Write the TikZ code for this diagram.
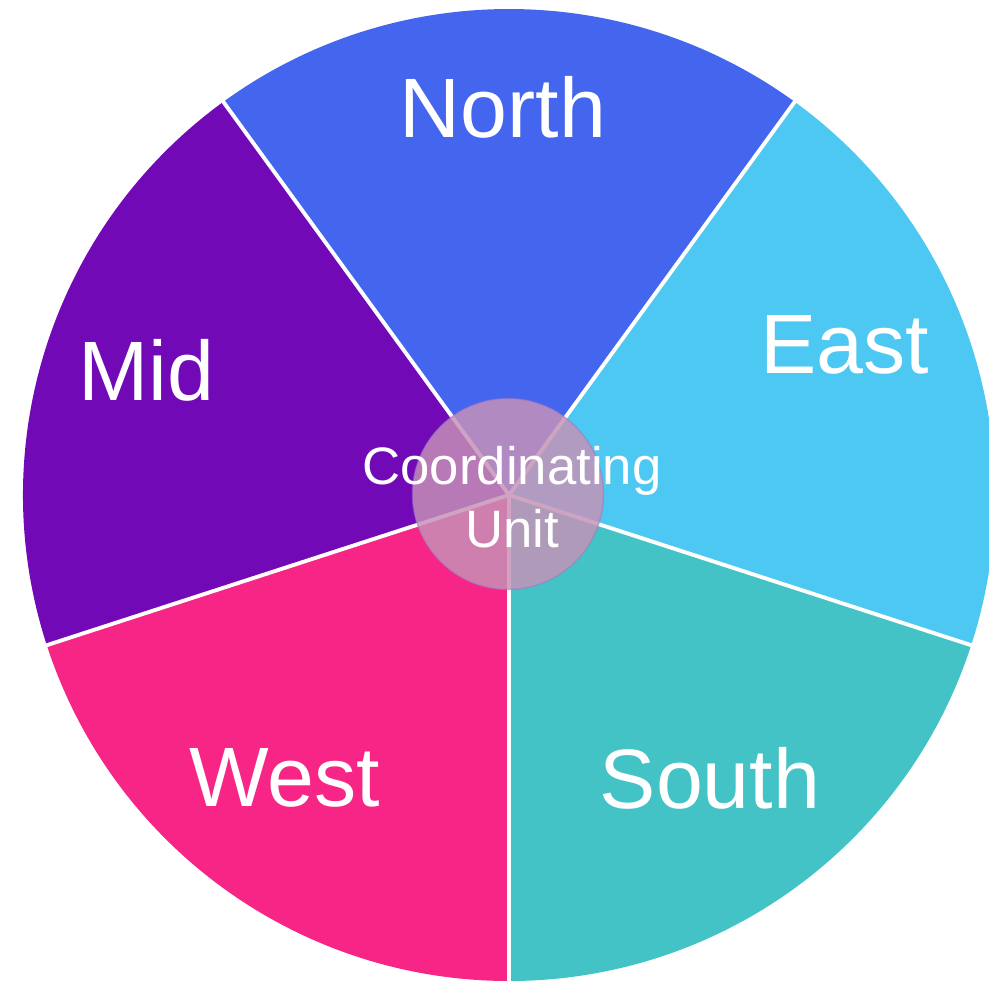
\documentclass[tikz,border=0pt]{standalone}
\usepackage{fontspec}
\setmainfont{Liberation Sans}
\usetikzlibrary{calc}
\definecolor{northblue}{HTML}{4466EE}
\definecolor{eastcyan}{HTML}{4DC8F2}
\definecolor{southteal}{HTML}{44C3C6}
\definecolor{westpink}{HTML}{F72585}
\definecolor{midviolet}{HTML}{7109B7}
\definecolor{hubmauve}{HTML}{C692B7}

\begin{document}
\begin{tikzpicture}[
    region/.style={text=white, font=\fontsize{24}{29}\selectfont},
    divider/.style={white, line width=1.1pt},
  ]
    \useasboundingbox (0,-9.80) rectangle (9.89,0);
    \clip (0,-9.80) rectangle (9.89,0);
    \coordinate (C) at (5.09,-4.95);
    % the five sectors
    \fill[northblue] (C) -- ++(54:4.86) arc (54:126:4.86) -- cycle;
    \fill[midviolet] (C) -- ++(126:4.86) arc (126:198:4.86) -- cycle;
    \fill[westpink] (C) -- ++(198:4.86) arc (198:270:4.86) -- cycle;
    \fill[southteal] (C) -- ++(270:4.86) arc (270:342:4.86) -- cycle;
    \fill[eastcyan] (C) -- ++(342:4.86) arc (342:414:4.86) -- cycle;
    \coordinate (NE) at ($(C)+(54:4.9)$);
    \coordinate (NW) at ($(C)+(126:4.9)$);
    \coordinate (SW) at ($(C)+(198:4.9)$);
    \coordinate (S) at ($(C)+(270:4.9)$);
    \coordinate (SE) at ($(C)+(342:4.9)$);
    \draw[divider] (C) -- (NE);
    \draw[divider] (C) -- (NW);
    \draw[divider] (C) -- (SW);
    \draw[divider] (C) -- (S);
    \draw[divider] (C) -- (SE);
    % labels
    \node (North) [region] at (5.03,-1.07) {North};
    \node (East) [region] at (8.45,-3.45) {East};
    \node (Mid) [region] at (1.46,-3.70) {Mid};
    \node (West) [region] at (2.85,-7.78) {West};
    \node (South) [region] at (7.10,-7.78) {South};
    % hub
    \node (hub) [circle, minimum size=1.91cm, inner sep=0pt, fill=hubmauve, fill opacity=0.83,
      draw=hubmauve!80!blue, draw opacity=0.5, line width=0.4pt] at (5.08,-4.94) {};
    \node (hubtext) [text=white, align=center, font=\fontsize{15}{18}\selectfont] at (5.12,-4.97) {Coordinating\\Unit};
\end{tikzpicture}
\end{document}
